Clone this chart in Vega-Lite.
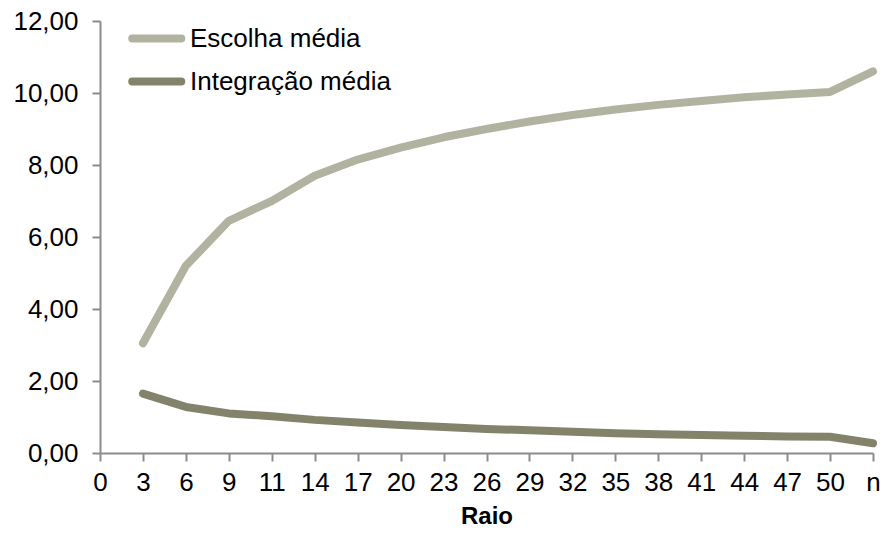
{
  "$schema": "https://vega.github.io/schema/vega-lite/v6.json",
  "width": 773,
  "height": 432,
  "autosize": {"type": "none"},
  "padding": {"left": 100, "top": 21, "right": 10, "bottom": 80},
  "background": "white",
  "config": {
    "font": "Liberation Sans",
    "view": {"stroke": null},
    "axis": {"grid": false, "domainColor": "#8c8c8c", "domainWidth": 2, "tickColor": "#8c8c8c", "tickWidth": 2, "labelColor": "#000000", "labelFontSize": 26, "labelFont": "Liberation Sans"}
  },
  "data": {
    "values": [
      {"raio": "3", "serie": "Escolha média", "valor": 3.05},
      {"raio": "6", "serie": "Escolha média", "valor": 5.2},
      {"raio": "9", "serie": "Escolha média", "valor": 6.45},
      {"raio": "11", "serie": "Escolha média", "valor": 7.0},
      {"raio": "14", "serie": "Escolha média", "valor": 7.7},
      {"raio": "17", "serie": "Escolha média", "valor": 8.15},
      {"raio": "20", "serie": "Escolha média", "valor": 8.48},
      {"raio": "23", "serie": "Escolha média", "valor": 8.77},
      {"raio": "26", "serie": "Escolha média", "valor": 9.0},
      {"raio": "29", "serie": "Escolha média", "valor": 9.21},
      {"raio": "32", "serie": "Escolha média", "valor": 9.39},
      {"raio": "35", "serie": "Escolha média", "valor": 9.54},
      {"raio": "38", "serie": "Escolha média", "valor": 9.67},
      {"raio": "41", "serie": "Escolha média", "valor": 9.78},
      {"raio": "44", "serie": "Escolha média", "valor": 9.88},
      {"raio": "47", "serie": "Escolha média", "valor": 9.96},
      {"raio": "50", "serie": "Escolha média", "valor": 10.03},
      {"raio": "n", "serie": "Escolha média", "valor": 10.6},
      {"raio": "3", "serie": "Integração média", "valor": 1.65},
      {"raio": "6", "serie": "Integração média", "valor": 1.28},
      {"raio": "9", "serie": "Integração média", "valor": 1.1},
      {"raio": "11", "serie": "Integração média", "valor": 1.02},
      {"raio": "14", "serie": "Integração média", "valor": 0.92},
      {"raio": "17", "serie": "Integração média", "valor": 0.85},
      {"raio": "20", "serie": "Integração média", "valor": 0.78},
      {"raio": "23", "serie": "Integração média", "valor": 0.72},
      {"raio": "26", "serie": "Integração média", "valor": 0.67},
      {"raio": "29", "serie": "Integração média", "valor": 0.63},
      {"raio": "32", "serie": "Integração média", "valor": 0.59},
      {"raio": "35", "serie": "Integração média", "valor": 0.55},
      {"raio": "38", "serie": "Integração média", "valor": 0.52},
      {"raio": "41", "serie": "Integração média", "valor": 0.5},
      {"raio": "44", "serie": "Integração média", "valor": 0.48},
      {"raio": "47", "serie": "Integração média", "valor": 0.46},
      {"raio": "50", "serie": "Integração média", "valor": 0.45},
      {"raio": "n", "serie": "Integração média", "valor": 0.27}
    ]
  },
  "mark": {"type": "line", "strokeWidth": 8, "strokeCap": "round", "strokeJoin": "round"},
  "encoding": {
    "x": {
      "field": "raio", "type": "nominal",
      "scale": {"type": "point", "padding": 0, "domain": ["0","3","6","9","11","14","17","20","23","26","29","32","35","38","41","44","47","50","n"]},
      "axis": {"title": "Raio", "titleFontSize": 24, "titleFontWeight": "bold", "titleColor": "#000000", "titleFont": "Liberation Sans", "titlePadding": 9, "labelAngle": 0, "tickSize": 8, "labelPadding": 8, "labelFlush": false}
    },
    "y": {
      "field": "valor", "type": "quantitative",
      "scale": {"domain": [0, 12], "nice": false},
      "axis": {"title": null, "values": [0, 2, 4, 6, 8, 10, 12], "labelExpr": "replace(format(datum.value, '.2f'), '.', ',')", "tickSize": 8, "labelPadding": 14}
    },
    "color": {
      "field": "serie", "type": "nominal",
      "scale": {"domain": ["Escolha média", "Integração média"], "range": ["#b2b2a0", "#83836b"]},
      "legend": {
        "title": null, "orient": "none", "legendX": 28, "legendY": 1,
        "symbolType": "M-1,0H3", "symbolSize": 600, "symbolStrokeWidth": 8,
        "labelFontSize": 26, "labelFont": "Liberation Sans", "labelColor": "#000000", "labelOffset": 29, "labelLimit": 0,
        "rowPadding": 10,
        "encode": {"symbols": {"update": {"strokeCap": {"value": "round"}}}}
      }
    }
  }
}
